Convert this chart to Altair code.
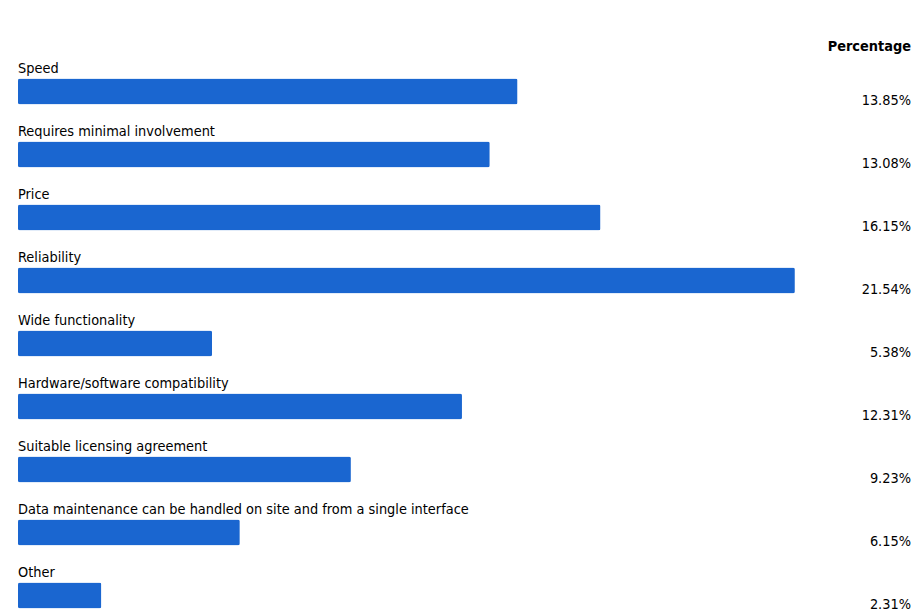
import altair as alt
import pandas as pd

categories = [
    "Speed",
    "Requires minimal involvement",
    "Price",
    "Reliability",
    "Wide functionality",
    "Hardware/software compatibility",
    "Suitable licensing agreement",
    "Data maintenance can be handled on site and from a single interface",
    "Other",
]
values = [13.85, 13.08, 16.15, 21.54, 5.38, 12.31, 9.23, 6.15, 2.31]
labels = [f"{v:.2f}%" for v in values]

df = pd.DataFrame({"Category": categories, "Value": values, "Label": labels})

FONT = "DejaVu Sans Condensed"
W = 893
H = 504

y = alt.Y("Category:N", sort=categories,
          scale=alt.Scale(type="point", padding=0), axis=None)

bars = alt.Chart(df).mark_bar(color="#1a66d0", height=26, cornerRadius=2).encode(
    x=alt.X("Value:Q", scale=alt.Scale(domain=[0, 24.76], nice=False, zero=True), axis=None),
    y=y,
)

cat_text = alt.Chart(df).mark_text(
    align="left", baseline="middle", dy=-22.5, font=FONT, fontSize=14.4, color="#000000"
).encode(x=alt.value(0), y=y, text="Category:N")

pct_text = alt.Chart(df).mark_text(
    align="right", baseline="middle", dy=9.5, font=FONT, fontSize=14.4, color="#000000"
).encode(x=alt.value(W), y=y, text="Label:N")

header = alt.Chart(pd.DataFrame({"t": ["Percentage"]})).mark_text(
    align="right", baseline="middle", font=FONT, fontSize=14.4, fontWeight="bold", color="#000000"
).encode(x=alt.value(W), y=alt.value(47 - 91.5), text="t:N")

chart = alt.layer(bars, cat_text, pct_text, header).properties(
    width=W, height=H,
    background="white",
    autosize=alt.AutoSizeParams(type="none"),
    padding={"left": 10, "top": 83.5, "right": 2, "bottom": 15},
).configure_view(strokeWidth=0)

chart.save("out.html", embed_options={"renderer": "svg", "actions": False})
